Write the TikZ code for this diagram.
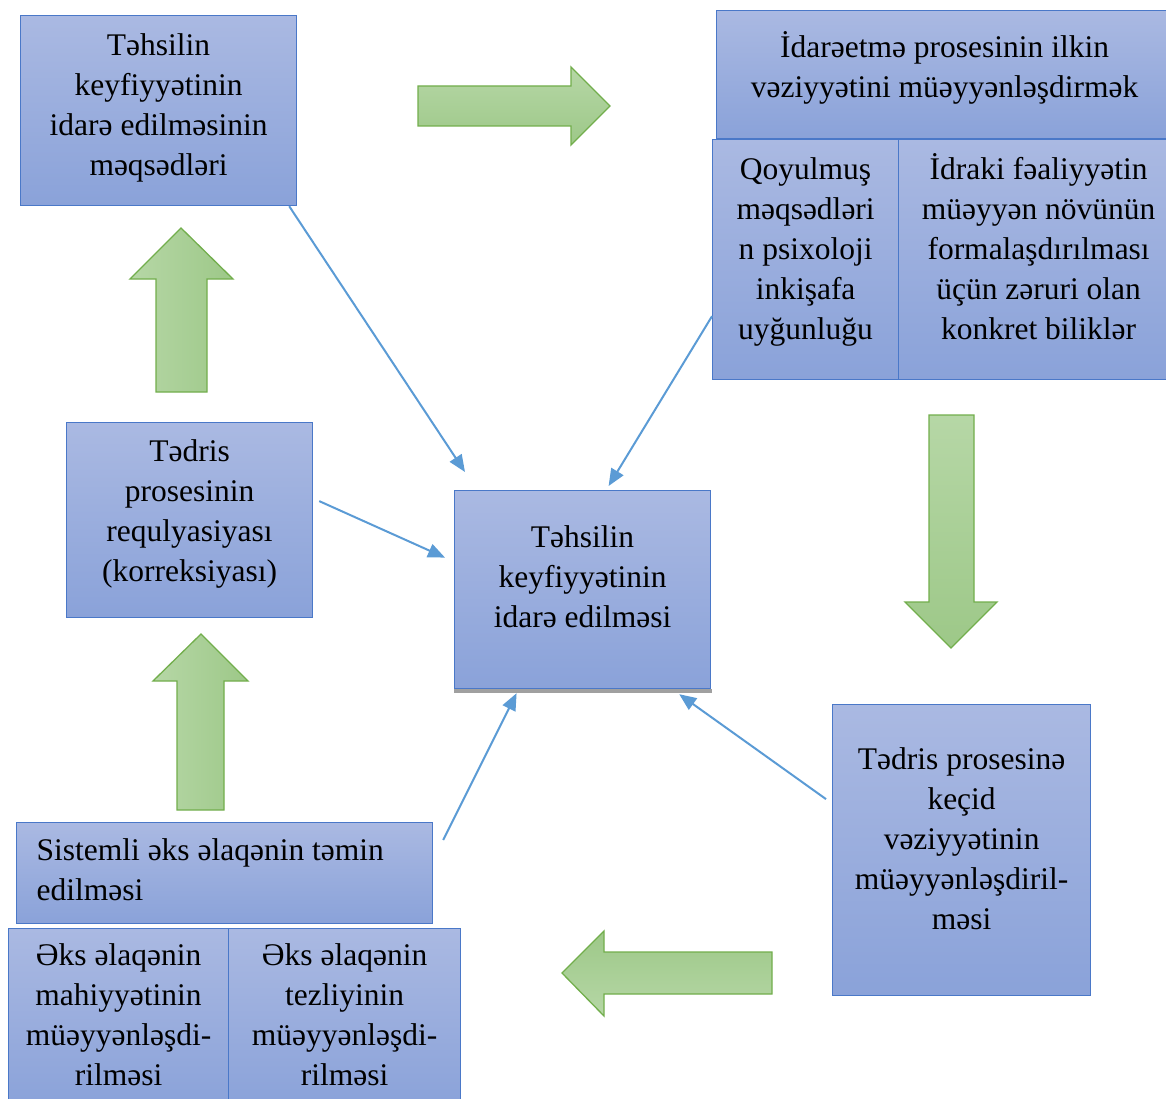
\documentclass[tikz,border=0pt]{standalone}
\usepackage{fontspec}
\setmainfont{LiberationSerif}[Extension=.ttf, UprightFont=*-Regular,
  BoldFont=*-Bold, ItalicFont=*-Italic, BoldItalicFont=*-BoldItalic]
\usepackage{tikz}
\usetikzlibrary{calc,arrows.meta}

\definecolor{boxtop}{HTML}{AAB9E2}
\definecolor{boxbot}{HTML}{8AA2D9}
\definecolor{boxline}{HTML}{4A78C8}
\definecolor{arrowlight}{HTML}{B6D7A6}
\definecolor{arrowdark}{HTML}{9DC888}
\definecolor{arrowline}{HTML}{72AE4C}
\definecolor{linkblue}{HTML}{5B9BD5}
\definecolor{shadowgray}{HTML}{A0A0A0}

% text of a box: width, height, gap above first line, lines
\newcommand{\celltext}[4]{\parbox[c][#2][t]{#1}{\centering\vspace*{#3}\strut#4}}

\begin{document}
\begin{tikzpicture}[
        x=1pt, y=-1pt,
        cellbox/.style={draw=boxline, line width=1.2pt, top color=boxtop,
          bottom color=boxbot, inner sep=0pt, anchor=north west,
          font=\fontsize{31.5}{40}\selectfont},
        link/.style={draw=linkblue, line width=2pt,
          -{Triangle[length=17pt,width=14pt]}},
        fat arrow/.style={draw=arrowline, line width=1.3pt, line join=miter},
        every node/.style={color=black}
      ]
      \useasboundingbox (0,0) rectangle (1166,1099);

      % big block arrows
      \draw[fat arrow, top color=arrowlight, bottom color=arrowdark]
        (418,86) -- (571,86) -- (571,67) -- (610,106) -- (571,145)
        -- (571,126) -- (418,126) -- cycle;
      \draw[fat arrow, left color=arrowlight, right color=arrowdark]
        (181,228) -- (233,279) -- (207,279) -- (207,392) -- (156,392)
        -- (156,279) -- (130,279) -- cycle;
      \draw[fat arrow, top color=arrowlight, bottom color=arrowdark]
        (929,415) -- (974,415) -- (974,602) -- (997,602) -- (951,648)
        -- (905,602) -- (929,602) -- cycle;
      \draw[fat arrow, top color=arrowdark, bottom color=arrowlight]
        (562,973) -- (604,931) -- (604,952) -- (772,952) -- (772,994)
        -- (604,994) -- (604,1016) -- cycle;
      \draw[fat arrow, left color=arrowlight, right color=arrowdark]
        (201,634) -- (248,681) -- (224,681) -- (224,810) -- (177,810)
        -- (177,681) -- (153,681) -- cycle;

      % boxes
      \node[cellbox] (goals) at (20,15)
        {\celltext{276pt}{190pt}{12pt}{Təhsilin\\keyfiyyətinin\\idarə edilməsinin\\məqsədləri}};
      \node[cellbox] (initial) at (716,10)
        {\celltext{456pt}{128pt}{19pt}{İdarəetmə prosesinin ilkin\\vəziyyətini müəyyənləşdirmək}};
      \node[cellbox] (conform) at (712,139)
        {\celltext{186pt}{240pt}{12pt}{Qoyulmuş\\məqsədləri\\n psixoloji\\inkişafa\\uyğunluğu}};
      \node[cellbox] (knowledge) at (898,139)
        {\celltext{280pt}{240pt}{12pt}{İdraki fəaliyyətin\\müəyyən növünün\\formalaşdırılması\\üçün zəruri olan\\konkret biliklər}};
      \node[cellbox] (regul) at (66,422)
        {\celltext{246pt}{195pt}{11pt}{Tədris\\prosesinin\\requlyasiyası\\(korreksiyası)}};
      \node[cellbox] (mgmt) at (454,490)
        {\celltext{256pt}{198pt}{29pt}{Təhsilin\\keyfiyyətinin\\idarə edilməsi}};
      \fill[shadowgray] (mgmt.south west) rectangle ($(mgmt.south east)+(1,4)$);
      \node[cellbox] (transit) at (832,704)
        {\celltext{258pt}{291pt}{37pt}{Tədris prosesinə\\keçid\\vəziyyətinin\\müəyyənləşdiril-\\məsi}};
      \node[cellbox] (feedback) at (16,822)
        {\parbox[c][101pt][t]{416pt}{\raggedright\leftskip=20pt\vspace*{10pt}\strut
          Sistemli əks əlaqənin təmin\\edilməsi}};
      \node[cellbox] (essence) at (8,928)
        {\celltext{220pt}{180pt}{9pt}{Əks əlaqənin\\mahiyyətinin\\müəyyənləşdi-\\rilməsi}};
      \node[cellbox] (rate) at (228,928)
        {\celltext{232pt}{180pt}{9pt}{Əks əlaqənin\\tezliyinin\\müəyyənləşdi-\\rilməsi}};

      % thin arrows into the centre
      \draw[link] ($(goals.south east)+(-8,0)$) -- ($(mgmt.north west)+(11,-18)$);
      \draw[link] ($(conform.south west)+(0,-64)$) -- ($(mgmt.north)+(26,-4)$);
      \draw[link] ($(regul.east)+(6,-19)$) -- ($(mgmt.west)+(-9,-32)$);
      \draw[link] ($(feedback.north east)+(10,18)$) -- ($(mgmt.south)+(-66,4)$);
      \draw[link] ($(transit.west)+(-6,-51)$) -- ($(mgmt.south east)+(-32,5)$);
      \end{tikzpicture}
\end{document}
